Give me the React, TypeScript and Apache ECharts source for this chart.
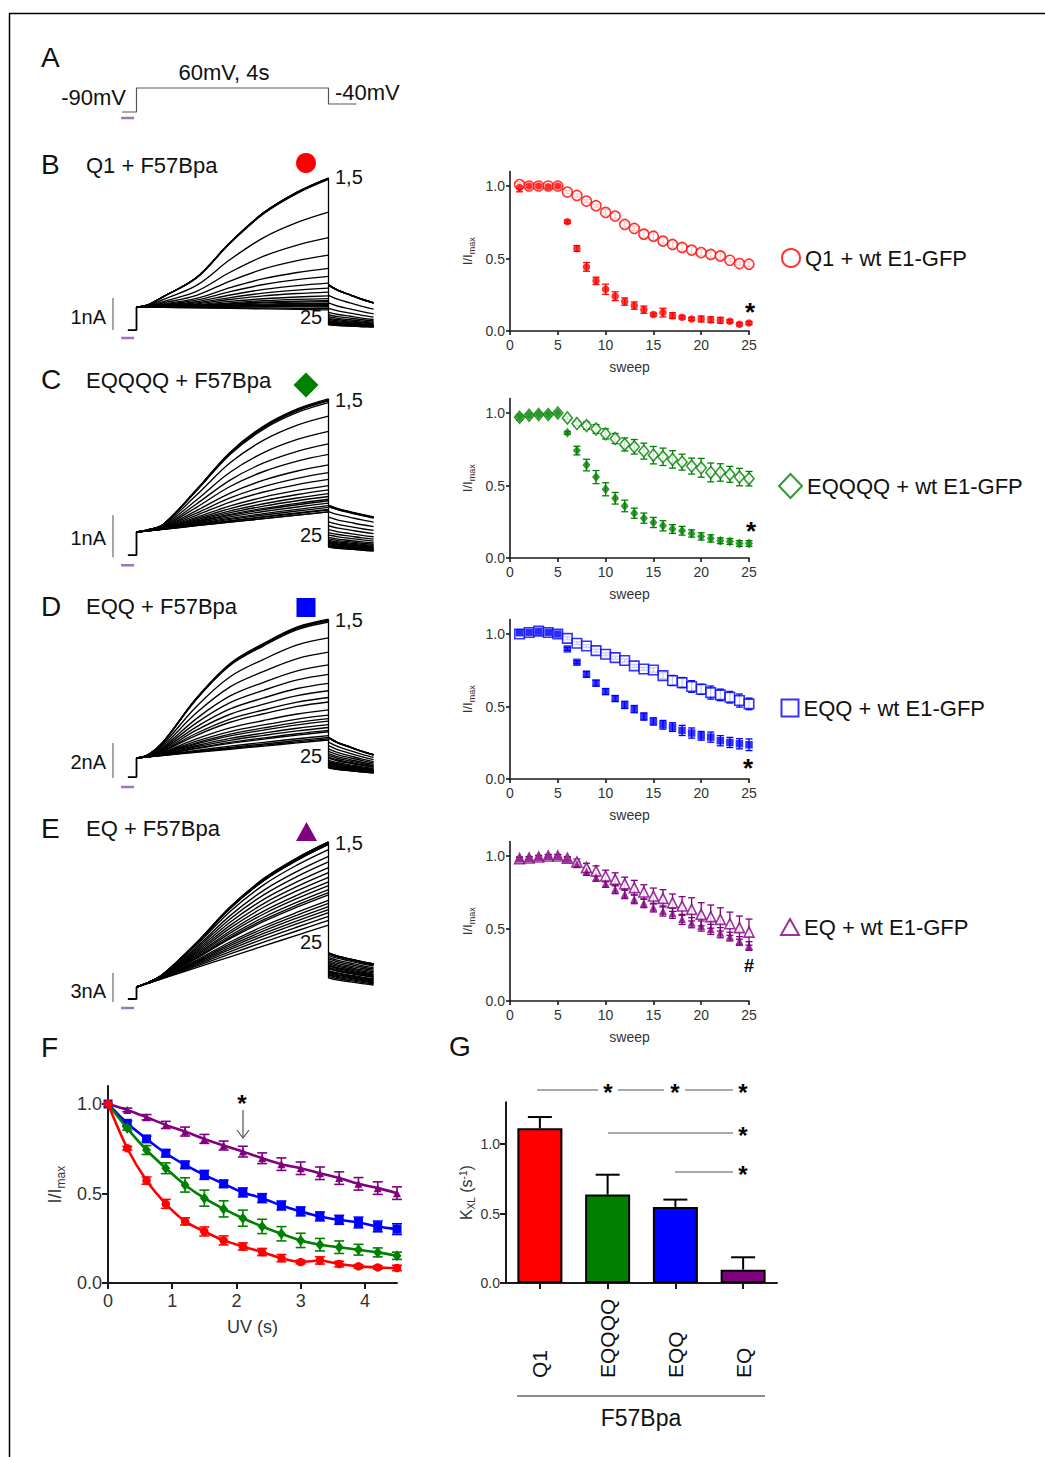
import React, { useEffect, useRef } from 'react';
import * as echarts from 'echarts';

const FONT = '"Liberation Sans", Arial, Helvetica, sans-serif';
const RED = '#ff0000';
const GREEN = '#008000';
const BLUE = '#0000ff';
const PURPLE = '#800080';
const LILAC = '#9b72c8';
const INK = '#111111';

// ---------------- data ----------------
const sweeps = [1, 2, 3, 4, 5, 6, 7, 8, 9, 10, 11, 12, 13, 14, 15, 16, 17, 18, 19, 20, 21, 22, 23, 24, 25];
const normTicks = [0, 0.5, 1.0];

// Q1 (B)
const q1Filled = [0.99, 1.0, 1.0, 0.995, 1.0, 0.753, 0.569, 0.442, 0.346, 0.288, 0.24, 0.203, 0.175, 0.147, 0.113, 0.127, 0.106, 0.094, 0.083, 0.083, 0.078, 0.074, 0.067, 0.046, 0.055];
const q1FilledErr = [0.03, 0.01, 0.01, 0.01, 0.01, 0.01, 0.02, 0.03, 0.025, 0.035, 0.03, 0.025, 0.025, 0.025, 0.01, 0.03, 0.02, 0.01, 0.01, 0.02, 0.02, 0.02, 0.01, 0.01, 0.01];
const q1Open = [1.01, 1.0, 1.0, 1.0, 1.0, 0.958, 0.935, 0.896, 0.864, 0.818, 0.793, 0.735, 0.707, 0.668, 0.654, 0.62, 0.597, 0.576, 0.558, 0.541, 0.528, 0.518, 0.488, 0.465, 0.461];
const q1OpenErr = [0.02, 0.01, 0.01, 0.01, 0.01, 0.01, 0.01, 0.01, 0.01, 0.02, 0.02, 0.02, 0.015, 0.025, 0.025, 0.025, 0.025, 0.025, 0.025, 0.02, 0.025, 0.02, 0.01, 0.01, 0.015];

// EQQQQ (C)
const c4Filled = [0.97, 0.984, 0.989, 0.989, 1.0, 0.863, 0.741, 0.641, 0.558, 0.474, 0.412, 0.359, 0.309, 0.275, 0.245, 0.222, 0.2, 0.188, 0.169, 0.149, 0.135, 0.119, 0.114, 0.1, 0.1];
const c4FilledErr = [0.02, 0.01, 0.01, 0.01, 0.01, 0.01, 0.03, 0.04, 0.045, 0.045, 0.04, 0.04, 0.035, 0.035, 0.035, 0.035, 0.03, 0.03, 0.025, 0.025, 0.025, 0.02, 0.02, 0.02, 0.02];
const c4Open = [0.97, 0.984, 0.989, 0.989, 1.0, 0.966, 0.927, 0.913, 0.89, 0.856, 0.824, 0.783, 0.767, 0.737, 0.709, 0.698, 0.68, 0.661, 0.634, 0.622, 0.59, 0.59, 0.577, 0.558, 0.547];
const c4OpenErr = [0.01, 0.01, 0.01, 0.01, 0.01, 0.01, 0.015, 0.025, 0.03, 0.035, 0.035, 0.045, 0.05, 0.055, 0.06, 0.06, 0.06, 0.055, 0.055, 0.065, 0.065, 0.06, 0.055, 0.06, 0.05];

// EQQ (D)
const c2Filled = [1.009, 1.011, 1.018, 1.011, 1.0, 0.897, 0.805, 0.722, 0.661, 0.603, 0.555, 0.511, 0.482, 0.431, 0.397, 0.374, 0.358, 0.335, 0.317, 0.298, 0.289, 0.264, 0.252, 0.243, 0.236];
const c2FilledErr = [0.01, 0.01, 0.01, 0.01, 0.01, 0.01, 0.01, 0.02, 0.02, 0.02, 0.02, 0.025, 0.025, 0.025, 0.025, 0.03, 0.03, 0.035, 0.035, 0.03, 0.035, 0.035, 0.035, 0.035, 0.04];
const c2Open = [1.0, 1.01, 1.02, 1.01, 1.0, 0.97, 0.936, 0.917, 0.885, 0.86, 0.837, 0.817, 0.78, 0.759, 0.752, 0.713, 0.679, 0.665, 0.638, 0.619, 0.596, 0.58, 0.564, 0.541, 0.518];
const c2OpenErr = [0.01, 0.01, 0.01, 0.01, 0.01, 0.01, 0.01, 0.01, 0.01, 0.01, 0.01, 0.01, 0.01, 0.01, 0.015, 0.02, 0.035, 0.035, 0.04, 0.035, 0.045, 0.04, 0.04, 0.045, 0.04];

// EQ (E)
const c1Filled = [0.982, 0.986, 0.993, 1.0, 1.0, 0.982, 0.943, 0.892, 0.851, 0.809, 0.77, 0.736, 0.701, 0.674, 0.644, 0.621, 0.605, 0.563, 0.54, 0.517, 0.494, 0.471, 0.444, 0.414, 0.379];
const c1FilledErr = [0.01, 0.01, 0.01, 0.01, 0.01, 0.01, 0.02, 0.025, 0.025, 0.025, 0.03, 0.03, 0.03, 0.03, 0.03, 0.035, 0.035, 0.035, 0.035, 0.035, 0.035, 0.035, 0.03, 0.03, 0.03];
const c1Open = [0.982, 0.986, 0.993, 1.0, 1.0, 0.985, 0.959, 0.92, 0.897, 0.862, 0.839, 0.809, 0.782, 0.752, 0.724, 0.708, 0.678, 0.655, 0.632, 0.598, 0.582, 0.563, 0.533, 0.506, 0.475];
const c1OpenErr = [0.01, 0.01, 0.01, 0.01, 0.01, 0.01, 0.02, 0.03, 0.035, 0.04, 0.045, 0.045, 0.05, 0.05, 0.055, 0.06, 0.06, 0.065, 0.08, 0.08, 0.08, 0.08, 0.08, 0.08, 0.09];

// Voltage protocol (A)
const protocolTime = [-0.3, 0, 0, 4, 4, 4.58];
const protocolMv = [-90, -90, 60, 60, -40, -40];

// Current traces (nA relative to the level just after the step)
const traceShapeTime = [0, 0.25, 0.55, 1.25, 1.95, 2.65, 3.35, 4.0];
const traceShapeB = [0, 0.02, 0.08, 0.23, 0.5, 0.73, 0.89, 1.0];
const traceShapeC = [0, 0.01, 0.04, 0.32, 0.62, 0.82, 0.94, 1.0];
const traceShapeD = [0, 0.02, 0.11, 0.45, 0.71, 0.85, 0.96, 1.0];
const traceShapeE = [0, 0.01, 0.05, 0.3, 0.6, 0.81, 0.93, 1.0];
const tailTime = [4.0, 4.2, 4.45, 4.7, 4.94];
const tailDecay = [0, 0.3, 0.55, 0.8, 1.0];
// [hold, endTop, endBottom, topTailStart, topTailEnd, bottomTailStart, bottomTailEnd]
const levelsB = [-0.72, 4.03, -0.09, 0.69, 0.13, -0.56, -0.63];
const levelsC = [-0.55, 3.17, 0.48, 0.64, 0.36, -0.36, -0.45];
const levelsD = [-1.09, 7.77, 1.03, 1.14, 0.17, -0.57, -0.86];
const levelsE = [-1.24, 15.0, 6.41, 3.52, 2.38, 0.93, 0.21];
const scaleBarB = [-0.72, 0.28];
const scaleBarC = [-0.6, 0.4];
const scaleBarD = [-1.14, 0.86];
const scaleBarE = [-1.55, 1.45];
const uvBarTime = [-0.32, -0.05];

// F
const uvTime = [0, 0.3, 0.6, 0.9, 1.2, 1.5, 1.8, 2.1, 2.4, 2.7, 3.0, 3.3, 3.6, 3.9, 4.2, 4.5];
const uvTicks = [0, 1, 2, 3, 4];
const uvEQ = [1.0, 0.967, 0.926, 0.883, 0.846, 0.805, 0.768, 0.734, 0.697, 0.664, 0.641, 0.613, 0.586, 0.554, 0.53, 0.502];
const uvEQErr = [0, 0.01, 0.015, 0.02, 0.025, 0.025, 0.025, 0.03, 0.03, 0.035, 0.035, 0.035, 0.035, 0.035, 0.035, 0.035];
const uvEQQ = [1.0, 0.892, 0.805, 0.725, 0.66, 0.604, 0.554, 0.506, 0.474, 0.433, 0.4, 0.372, 0.353, 0.338, 0.316, 0.301];
const uvEQQErr = [0, 0.015, 0.015, 0.02, 0.02, 0.025, 0.02, 0.025, 0.025, 0.025, 0.025, 0.025, 0.025, 0.03, 0.03, 0.03];
const uvEQQQQ = [1.0, 0.864, 0.743, 0.641, 0.548, 0.474, 0.414, 0.362, 0.316, 0.275, 0.238, 0.214, 0.2, 0.186, 0.171, 0.152];
const uvEQQQQErr = [0, 0.01, 0.025, 0.03, 0.04, 0.045, 0.045, 0.045, 0.04, 0.04, 0.04, 0.035, 0.035, 0.03, 0.025, 0.02];
const uvQ1 = [1.0, 0.753, 0.572, 0.442, 0.344, 0.288, 0.238, 0.204, 0.173, 0.139, 0.117, 0.126, 0.106, 0.093, 0.087, 0.084];
const uvQ1Err = [0, 0.01, 0.02, 0.025, 0.02, 0.025, 0.025, 0.02, 0.02, 0.02, 0.01, 0.02, 0.015, 0.01, 0.01, 0.015];

// G
const kxlCats = ['Q1', 'EQQQQ', 'EQQ', 'EQ'];
const kxl = [1.113, 0.636, 0.547, 0.096];
const kxlErr = [0.081, 0.143, 0.053, 0.089];
const kxlTicks = [0, 0.5, 1.0];

// ---------------- helpers ----------------
function errSeries(gi: number, xs: any[], ys: number[], es: number[], color: string, cap: number, lw: number, upOnly = false, z = 2) {
  return {
    type: 'custom',
    xAxisIndex: gi,
    yAxisIndex: gi,
    silent: true,
    z,
    data: ys.map((y, i) => [xs[i], y, es[i]]),
    encode: { x: 0, y: 1 },
    renderItem: (params: any, api: any) => {
      const x = api.value(0);
      const y = api.value(1);
      const e = api.value(2);
      const hi = api.coord([x, y + e]);
      const lo = api.coord([x, upOnly ? y : y - e]);
      const st = { stroke: color, lineWidth: lw };
      const children: any[] = [
        { type: 'line', shape: { x1: hi[0], y1: hi[1], x2: lo[0], y2: lo[1] }, style: st },
        { type: 'line', shape: { x1: hi[0] - cap, y1: hi[1], x2: hi[0] + cap, y2: hi[1] }, style: st },
      ];
      if (!upOnly) children.push({ type: 'line', shape: { x1: lo[0] - cap, y1: lo[1], x2: lo[0] + cap, y2: lo[1] }, style: st });
      return { type: 'group', children };
    },
  };
}

function txt(text: string, x: number, y: number, size: number, align = 'left', extra: any = {}) {
  return {
    type: 'text',
    x,
    y,
    silent: true,
    style: {
      text,
      fontSize: size,
      fontFamily: FONT,
      fill: INK,
      align,
      verticalAlign: 'middle',
      ...extra,
    },
  };
}

function addTraces(series: any[], gi: number, norm: number[], lv: number[], shape: number[], bar: number[], uvY: number) {
  const [hold, endTop, endBot, topTS, topTE, botTS, botTE] = lv;
  const nMin = Math.min(...norm);
  let maxEnd = -Infinity;
  const base = { type: 'line', xAxisIndex: gi, yAxisIndex: gi, silent: true, symbol: 'none' };
  norm.forEach((n) => {
    const frac = (n - nMin) / (1 - nMin);
    const end = endBot + (endTop - endBot) * frac;
    if (end > maxEnd) maxEnd = end;
    series.push({
      ...base,
      smooth: 0.35,
      lineStyle: { color: '#000', width: 1.35 },
      data: traceShapeTime.map((t, k) => [t, (endBot * t) / 4 + (end - endBot) * shape[k]]),
    });
    const s = botTS + (topTS - botTS) * frac;
    const e = botTE + (topTE - botTE) * frac;
    series.push({
      ...base,
      smooth: 0.35,
      lineStyle: { color: '#000', width: 1.35 },
      data: tailTime.map((t, k) => [t, s + (e - s) * tailDecay[k]]),
    });
  });
  series.push({ ...base, lineStyle: { color: '#000', width: 1.8 }, data: [[-0.18, hold], [0, hold], [0, 0]] });
  series.push({ ...base, lineStyle: { color: '#000', width: 1.3 }, data: [[4, maxEnd], [4, botTS]] });
  series.push({ ...base, lineStyle: { color: '#888', width: 1.5 }, data: [[-0.49, bar[0]], [-0.49, bar[1]]] });
  series.push({ ...base, lineStyle: { color: LILAC, width: 2.5 }, data: [[uvBarTime[0], uvY], [uvBarTime[1], uvY]] });
}

function buildOption() {
  const grid: any[] = [];
  const xAxis: any[] = [];
  const yAxis: any[] = [];
  const series: any[] = [];
  const legend: any[] = [];
  const hidden = (gi: number, min: number, max: number) => ({ type: 'value', gridIndex: gi, min, max, show: false });
  const axisLineStyle = { color: '#1a1a1a', width: 1.6 };
  const labelStyle = (size: number) => ({ fontSize: size, color: '#333', fontFamily: FONT });

  // --- grid 0: protocol A ---
  grid.push({ left: 107.7, top: 86.4, width: 268.8, height: 33.6, outerBoundsMode: 'none' });
  xAxis.push(hidden(0, -0.6, 5));
  yAxis.push(hidden(0, -140, 70));
  series.push({
    type: 'line', xAxisIndex: 0, yAxisIndex: 0, silent: true, symbol: 'none',
    lineStyle: { color: '#555', width: 1.2 },
    data: protocolTime.map((t, i) => [t, protocolMv[i]]),
  });
  series.push({
    type: 'line', xAxisIndex: 0, yAxisIndex: 0, silent: true, symbol: 'none',
    lineStyle: { color: LILAC, width: 2.5 },
    data: [[uvBarTime[0], -127.5], [uvBarTime[1], -127.5]],
  });

  // --- grids 1-4: traces ---
  const traceGrids = [
    { top: 147, height: 208, min: -1.5, max: 5 },
    { top: 385, height: 189, min: -1.0, max: 3.5 },
    { top: 609.25, height: 183.75, min: -2, max: 8.5 },
    { top: 832.3, height: 183.7, min: -3, max: 16 },
  ];
  traceGrids.forEach((g, k) => {
    grid.push({ left: 107.7, top: g.top, width: 268.8, height: g.height, outerBoundsMode: 'none' });
    xAxis.push(hidden(k + 1, -0.6, 5));
    yAxis.push(hidden(k + 1, g.min, g.max));
  });
  addTraces(series, 1, q1Filled, levelsB, traceShapeB, scaleBarB, -0.97);
  addTraces(series, 2, c4Filled, levelsC, traceShapeC, scaleBarC, -0.79);
  addTraces(series, 3, c2Filled, levelsD, traceShapeD, scaleBarD, -1.66);
  addTraces(series, 4, c1Filled, levelsE, traceShapeE, scaleBarE, -2.17);

  // --- grids 5-8: normalized current vs sweep ---
  const scatterPanels = [
    { top: 171.5, color: RED, filled: q1Filled, fErr: q1FilledErr, open: q1Open, oErr: q1OpenErr, sym: 'circle', fSize: 7.5, oSize: 10, name: 'Q1 + wt E1-GFP', fname: 'Q1 + F57Bpa', legTop: 247, legLeft: 781, icon: 'circle', iw: 18, ih: 18 },
    { top: 398.5, color: GREEN, filled: c4Filled, fErr: c4FilledErr, open: c4Open, oErr: c4OpenErr, sym: 'diamond', fSize: [8, 10], oSize: [10, 12], name: 'EQQQQ + wt E1-GFP', fname: 'EQQQQ + F57Bpa', legTop: 473, legLeft: 778, icon: 'diamond', iw: 23, ih: 24 },
    { top: 619.5, color: BLUE, filled: c2Filled, fErr: c2FilledErr, open: c2Open, oErr: c2OpenErr, sym: 'rect', fSize: 7.5, oSize: 9.5, name: 'EQQ + wt E1-GFP', fname: 'EQQ + F57Bpa', legTop: 697, legLeft: 780.5, icon: 'rect', iw: 17, ih: 17 },
    { top: 841.5, color: PURPLE, filled: c1Filled, fErr: c1FilledErr, open: c1Open, oErr: c1OpenErr, sym: 'triangle', fSize: 8, oSize: 10, name: 'EQ + wt E1-GFP', fname: 'EQ + F57Bpa', legTop: 916, legLeft: 780, icon: 'triangle', iw: 18, ih: 16 },
  ];
  scatterPanels.forEach((p, k) => {
    const gi = 5 + k;
    grid.push({ left: 510, top: p.top, width: 239, height: 159.5, outerBoundsMode: 'none' });
    xAxis.push({
      type: 'value', gridIndex: gi, min: 0, max: 25, interval: 5,
      axisLine: { show: true, onZero: false, lineStyle: axisLineStyle },
      axisTick: { show: true, length: 4, lineStyle: axisLineStyle },
      axisLabel: { ...labelStyle(14), margin: 7 },
      splitLine: { show: false },
      name: 'sweep', nameLocation: 'middle', nameGap: 29,
      nameTextStyle: labelStyle(14),
    });
    yAxis.push({
      type: 'value', gridIndex: gi, min: 0, max: 1.1,
      axisLine: { show: true, onZero: false, lineStyle: axisLineStyle },
      axisTick: { show: true, length: 4, customValues: normTicks, lineStyle: axisLineStyle },
      axisLabel: { ...labelStyle(14), margin: 5, customValues: normTicks, formatter: (v: number) => v.toFixed(1) },
      splitLine: { show: false },
      name: '{a|I/I}{b|max}', nameLocation: 'middle', nameGap: 36, nameRotate: 90,
      nameTextStyle: {
        rich: {
          a: { fontSize: 13, lineHeight: 13, fontFamily: FONT, color: '#333', verticalAlign: 'top' },
          b: { fontSize: 9, lineHeight: 9, fontFamily: FONT, color: '#333', verticalAlign: 'top', padding: [6, 0, 0, 0] },
        },
      },
    });
    series.push(errSeries(gi, sweeps, p.open, p.oErr, p.color, 3.5, 1.3));
    series.push(errSeries(gi, sweeps, p.filled, p.fErr, p.color, 3.5, 1.3));
    series.push({
      type: 'scatter', name: p.name, xAxisIndex: gi, yAxisIndex: gi, silent: true, z: 3,
      symbol: p.sym, symbolSize: p.oSize,
      itemStyle: { color: '#fff', borderColor: p.color, borderWidth: 1.6 },
      data: sweeps.map((s, i) => [s, p.open[i]]),
    });
    series.push({
      type: 'scatter', name: p.fname, xAxisIndex: gi, yAxisIndex: gi, silent: true, z: 4,
      symbol: p.sym, symbolSize: p.fSize,
      itemStyle: { color: p.color },
      data: sweeps.map((s, i) => [s, p.filled[i]]),
    });
    legend.push({
      left: p.legLeft, top: p.legTop, padding: 0, selectedMode: false, orient: 'vertical',
      itemWidth: p.iw, itemHeight: p.ih,
      textStyle: { fontSize: 22, fontFamily: FONT, color: INK },
      data: [{ name: p.name, icon: p.icon, itemStyle: { color: '#ffffff', borderColor: p.color, borderWidth: 2 } }],
    });
  });

  // --- grid 9: F ---
  grid.push({ left: 108, top: 1086.1, width: 289, height: 196.9, outerBoundsMode: 'none' });
  xAxis.push({
    type: 'value', gridIndex: 9, min: 0, max: 4.5,
    axisLine: { show: true, onZero: false, lineStyle: { color: '#1a1a1a', width: 2 } },
    axisTick: { show: true, length: 6, customValues: uvTicks, lineStyle: { color: '#1a1a1a', width: 2 } },
    axisLabel: { ...labelStyle(18), margin: 9, customValues: uvTicks },
    splitLine: { show: false },
    name: 'UV (s)', nameLocation: 'middle', nameGap: 35, nameTextStyle: labelStyle(18),
  });
  yAxis.push({
    type: 'value', gridIndex: 9, min: 0, max: 1.1,
    axisLine: { show: true, onZero: false, lineStyle: { color: '#1a1a1a', width: 2 } },
    axisTick: { show: true, length: 6, customValues: normTicks, lineStyle: { color: '#1a1a1a', width: 2 } },
    axisLabel: { ...labelStyle(18), margin: 6, customValues: normTicks, formatter: (v: number) => v.toFixed(1) },
    splitLine: { show: false },
    name: '{a|I/I}{b|max}', nameLocation: 'middle', nameGap: 44, nameRotate: 90,
    nameTextStyle: {
      rich: {
        a: { fontSize: 18, lineHeight: 18, fontFamily: FONT, color: '#333', verticalAlign: 'top' },
        b: { fontSize: 12, lineHeight: 12, fontFamily: FONT, color: '#333', verticalAlign: 'top', padding: [9, 0, 0, 0] },
      },
    },
  });
  const fLines = [
    { name: 'EQ', vals: uvEQ, err: uvEQErr, color: PURPLE, sym: 'triangle', size: 8 },
    { name: 'EQQ', vals: uvEQQ, err: uvEQQErr, color: BLUE, sym: 'rect', size: 9 },
    { name: 'EQQQQ', vals: uvEQQQQ, err: uvEQQQQErr, color: GREEN, sym: 'diamond', size: [9, 11] },
    { name: 'Q1', vals: uvQ1, err: uvQ1Err, color: RED, sym: 'circle', size: 8.5 },
  ];
  fLines.forEach((l, k) => {
    series.push(errSeries(9, uvTime, l.vals, l.err, l.color, 5, 1.6, false, 5 + k * 2));
    series.push({
      type: 'line', name: 'UV ' + l.name, xAxisIndex: 9, yAxisIndex: 9, silent: true, z: 6 + k * 2,
      smooth: 0.3, symbol: l.sym, symbolSize: l.size, showSymbol: true,
      lineStyle: { color: l.color, width: 2.6 },
      itemStyle: { color: l.color },
      data: uvTime.map((t, i) => [t, l.vals[i]]),
    });
  });

  // --- grid 10: G ---
  grid.push({ left: 506, top: 1102.3, width: 271, height: 180.7, outerBoundsMode: 'none' });
  xAxis.push({
    type: 'category', gridIndex: 10, data: kxlCats, boundaryGap: true,
    axisLine: { show: true, onZero: false, lineStyle: { color: '#1a1a1a', width: 2 } },
    axisTick: { show: true, length: 6, alignWithLabel: true, lineStyle: { color: '#1a1a1a', width: 2 } },
    axisLabel: { ...labelStyle(21), color: INK, rotate: 90, align: 'left', verticalAlign: 'middle', margin: 95, interval: 0 },
  });
  yAxis.push({
    type: 'value', gridIndex: 10, min: 0, max: 1.3,
    axisLine: { show: true, onZero: false, lineStyle: { color: '#1a1a1a', width: 2 } },
    axisTick: { show: true, length: 6, customValues: kxlTicks, lineStyle: { color: '#1a1a1a', width: 2 } },
    axisLabel: { ...labelStyle(14), margin: 6, customValues: kxlTicks, formatter: (v: number) => v.toFixed(1) },
    splitLine: { show: false },
    name: '{a|K}{b|XL}{a| (s}{c|-1}{a|)}', nameLocation: 'middle', nameGap: 30, nameRotate: 90,
    nameTextStyle: {
      rich: {
        a: { fontSize: 16, lineHeight: 16, fontFamily: FONT, color: '#333', verticalAlign: 'top' },
        b: { fontSize: 10, lineHeight: 10, fontFamily: FONT, color: '#333', verticalAlign: 'top', padding: [8, 0, 0, 0] },
        c: { fontSize: 10, lineHeight: 10, fontFamily: FONT, color: '#333', verticalAlign: 'top' },
      },
    },
  });
  const barColors = [RED, GREEN, BLUE, PURPLE];
  series.push({
    type: 'bar', name: 'KXL', xAxisIndex: 10, yAxisIndex: 10, silent: true, barWidth: 45, z: 3,
    data: kxl.map((v, i) => ({ value: v, itemStyle: { color: barColors[i], borderColor: '#000', borderWidth: 2 } })),
  });
  series.push(errSeries(10, [0, 1, 2, 3], kxl, kxlErr, '#000', 12, 2, true, 2));

  // --- graphic annotations ---
  const star = (x: number, y: number, size = 26) => txt('*', x, y + 4, size, 'center', { fontWeight: 'bold', fill: '#000' });
  const graphic: any[] = [
    { type: 'rect', silent: true, z: -10, shape: { x: 9.5, y: 13.5, width: 1100, height: 1460 }, style: { fill: 'none', stroke: '#000', lineWidth: 1.5 } },
    txt('A', 41, 57, 28),
    txt('60mV, 4s', 224, 72, 22, 'center'),
    txt('-90mV', 126, 97, 22, 'right'),
    txt('-40mV', 335, 92, 22),
    txt('B', 41, 164, 28),
    txt('Q1 + F57Bpa', 86, 165, 22),
    { type: 'circle', silent: true, shape: { cx: 306, cy: 163, r: 10 }, style: { fill: RED } },
    txt('1,5', 335, 177, 20),
    txt('25', 300, 317, 20),
    txt('1nA', 106, 317, 20, 'right'),
    txt('C', 41, 379, 28),
    txt('EQQQQ + F57Bpa', 86, 380, 22),
    { type: 'polygon', silent: true, shape: { points: [[306, 372.5], [318.5, 385], [306, 397.5], [293.5, 385]] }, style: { fill: GREEN } },
    txt('1,5', 335, 400, 20),
    txt('25', 300, 535, 20),
    txt('1nA', 106, 538, 20, 'right'),
    txt('D', 41, 606, 28),
    txt('EQQ + F57Bpa', 86, 606, 22),
    { type: 'rect', silent: true, shape: { x: 296.5, y: 598, width: 19, height: 19 }, style: { fill: BLUE } },
    txt('1,5', 335, 620, 20),
    txt('25', 300, 756, 20),
    txt('2nA', 106, 762, 20, 'right'),
    txt('E', 41, 828, 28),
    txt('EQ + F57Bpa', 86, 828, 22),
    { type: 'polygon', silent: true, shape: { points: [[306.5, 822], [317, 841], [296, 841]] }, style: { fill: PURPLE } },
    txt('1,5', 335, 843, 20),
    txt('25', 300, 942, 20),
    txt('3nA', 106, 991, 20, 'right'),
    star(750, 308),
    star(751, 527),
    star(748, 764),
    txt('#', 749, 966, 18, 'center', { fontWeight: 'bold', fill: '#000' }),
    txt('F', 41, 1047, 28),
    txt('G', 449, 1046, 28),
    star(242, 1099, 24),
    { type: 'line', silent: true, shape: { x1: 243, y1: 1110, x2: 243, y2: 1138 }, style: { stroke: '#555', lineWidth: 1.2 } },
    { type: 'polyline', silent: true, shape: { points: [[237, 1130], [243, 1138], [249, 1130]] }, style: { stroke: '#555', lineWidth: 1.2, fill: 'none' } },
    // G significance
    { type: 'line', silent: true, shape: { x1: 537, y1: 1090, x2: 598, y2: 1090 }, style: { stroke: '#555', lineWidth: 1 } },
    { type: 'line', silent: true, shape: { x1: 618, y1: 1090, x2: 664, y2: 1090 }, style: { stroke: '#555', lineWidth: 1 } },
    { type: 'line', silent: true, shape: { x1: 685, y1: 1090, x2: 733, y2: 1090 }, style: { stroke: '#555', lineWidth: 1 } },
    { type: 'line', silent: true, shape: { x1: 608, y1: 1133, x2: 733, y2: 1133 }, style: { stroke: '#555', lineWidth: 1 } },
    { type: 'line', silent: true, shape: { x1: 675, y1: 1172, x2: 733, y2: 1172 }, style: { stroke: '#555', lineWidth: 1 } },
    star(608, 1088, 24),
    star(675, 1088, 24),
    star(743, 1088, 24),
    star(743, 1131, 24),
    star(743, 1170, 24),
    { type: 'line', silent: true, shape: { x1: 517, y1: 1396, x2: 765, y2: 1396 }, style: { stroke: '#666', lineWidth: 1.5 } },
    txt('F57Bpa', 641, 1418, 23, 'center'),
  ];

  return {
    animation: false,
    backgroundColor: '#ffffff',
    textStyle: { fontFamily: FONT },
    grid,
    xAxis,
    yAxis,
    legend,
    series,
    graphic,
  };
}

export default function App() {
  const ref = useRef<HTMLDivElement>(null);
  useEffect(() => {
    if (!ref.current) return;
    const chart = echarts.init(ref.current, null, { renderer: 'svg' });
    chart.setOption(buildOption() as any);
    return () => chart.dispose();
  }, []);
  return (
    <div
      ref={ref}
      style={{ position: 'absolute', left: 0, top: 0, width: 1045, height: 1457, background: '#fff' }}
    />
  );
}
